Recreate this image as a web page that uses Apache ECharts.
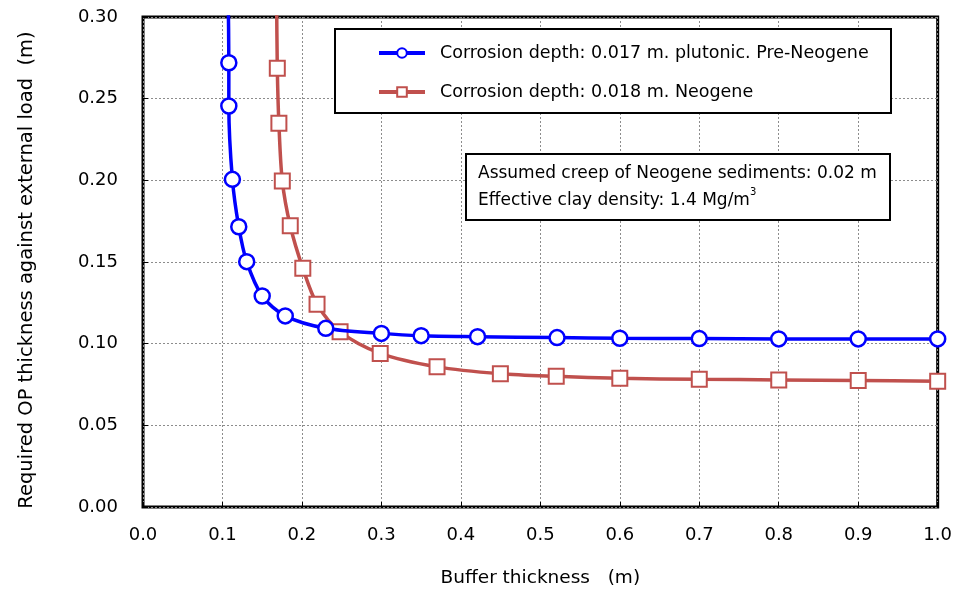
<!DOCTYPE html>
<html>
<head>
<meta charset="utf-8">
<script src="https://cdn.jsdelivr.net/npm/echarts@6/dist/echarts.min.js"></script>
<style>
  html, body { margin: 0; padding: 0; background: #fff; }
  #chart { width: 955px; height: 594px; }
</style>
</head>
<body>
<div id="chart"></div>
<script>
// Buffer thickness (m) and required OP thickness (m) for each case
const preNeogeneX = [0.107, 0.108, 0.108, 0.1125, 0.1205, 0.1305, 0.150, 0.179, 0.230, 0.300, 0.350, 0.421, 0.521, 0.600, 0.700, 0.800, 0.900, 1.000];
const preNeogeneY = [0.320, 0.272, 0.2455, 0.2006, 0.1716, 0.1502, 0.1292, 0.1170, 0.1094, 0.1063, 0.1049, 0.1043, 0.1037, 0.1033, 0.1031, 0.1029, 0.1029, 0.1029];

const neogeneX = [0.168, 0.169, 0.171, 0.1753, 0.1853, 0.2011, 0.219, 0.248, 0.2985, 0.370, 0.4497, 0.520, 0.600, 0.700, 0.800, 0.900, 1.000];
const neogeneY = [0.320, 0.2686, 0.2349, 0.1996, 0.1722, 0.1462, 0.1242, 0.1073, 0.0940, 0.0858, 0.0816, 0.0800, 0.0788, 0.0782, 0.0778, 0.0774, 0.0770];

const seriesNames = [
  'Corrosion depth: 0.017 m. plutonic. Pre-Neogene',
  'Corrosion depth: 0.018 m. Neogene'
];

const noteLines = [
  'Assumed creep of Neogene sediments: 0.02 m',
  'Effective clay density: 1.4 Mg/m{sup|3}'
];

const FONT = 'DejaVu Sans';

function pairs(xs, ys) { return xs.map((x, i) => [x, ys[i]]); }

const chart = echarts.init(document.getElementById('chart'));

chart.setOption({
  animation: false,
  backgroundColor: '#fff',
  textStyle: { fontFamily: FONT },
  grid: {
    left: 143, top: 17, right: 15, bottom: 87,
    show: true, borderColor: '#000', borderWidth: 3, backgroundColor: 'transparent'
  },
  xAxis: {
    type: 'value', min: 0, max: 1, interval: 0.1,
    name: 'Buffer thickness   (m)', nameLocation: 'middle', nameGap: 62,
    nameTextStyle: { fontSize: 18.5, color: '#000', fontFamily: FONT },
    axisLine: { show: false },
    axisTick: { show: true, inside: true, length: 5, lineStyle: { color: '#000' } },
    axisLabel: { fontSize: 18, color: '#000', margin: 19, formatter: v => v.toFixed(1) },
    splitLine: { show: true, lineStyle: { color: '#8c8c8c', type: [2, 2], width: 1 } }
  },
  yAxis: {
    type: 'value', min: 0, max: 0.3, interval: 0.05,
    name: 'Required OP thickness against external load  (m)', nameLocation: 'middle', nameGap: 106,
    nameTextStyle: { fontSize: 19.5, color: '#000', fontFamily: FONT, padding: [0, 16, 0, 0] },
    axisLine: { show: false },
    axisTick: { show: true, inside: true, length: 5, lineStyle: { color: '#000' } },
    axisLabel: { fontSize: 18, color: '#000', margin: 25, formatter: v => v.toFixed(2) },
    splitLine: { show: true, lineStyle: { color: '#8c8c8c', type: [2, 2], width: 1 } }
  },
  legend: {
    left: 372, top: 39, orient: 'vertical', itemGap: 21,
    itemWidth: 46, itemHeight: 12,
    lineStyle: { width: 4 },
    textStyle: { fontSize: 17.5, color: '#000', fontFamily: FONT, padding: [0, 0, 0, 10] },
    data: seriesNames
  },
  series: [
    {
      name: seriesNames[0], type: 'line', clip: true, smooth: 0.3,
      data: pairs(preNeogeneX, preNeogeneY),
      symbol: 'circle', symbolSize: 15,
      lineStyle: { color: '#0000ff', width: 3.5 },
      itemStyle: { color: '#ffffff', borderColor: '#0000ff', borderWidth: 2.5 },
      z: 3
    },
    {
      name: seriesNames[1], type: 'line', clip: true, smooth: 0.3,
      data: pairs(neogeneX, neogeneY),
      symbol: 'rect', symbolSize: 15,
      lineStyle: { color: '#c0504d', width: 3.5 },
      itemStyle: { color: '#ffffff', borderColor: '#c0504d', borderWidth: 2 },
      z: 2
    }
  ],
  graphic: [
    {
      type: 'rect', left: 334, top: 28, z: 1,
      shape: { width: 556, height: 84 },
      style: { fill: '#fff', stroke: '#000', lineWidth: 2 }
    },
    {
      type: 'rect', left: 465, top: 153, z: 1,
      shape: { width: 424, height: 66 },
      style: { fill: '#fff', stroke: '#000', lineWidth: 2 }
    },
    {
      type: 'text', left: 478, top: 160, z: 2,
      style: {
        text: noteLines.join('\n'),
        font: '17px "' + FONT + '"', fill: '#000', lineHeight: 27,
        rich: { sup: { fontSize: 10, verticalAlign: 'top', padding: [0, 0, 8, 0], fontFamily: FONT } }
      }
    }
  ]
});
</script>
</body>
</html>
